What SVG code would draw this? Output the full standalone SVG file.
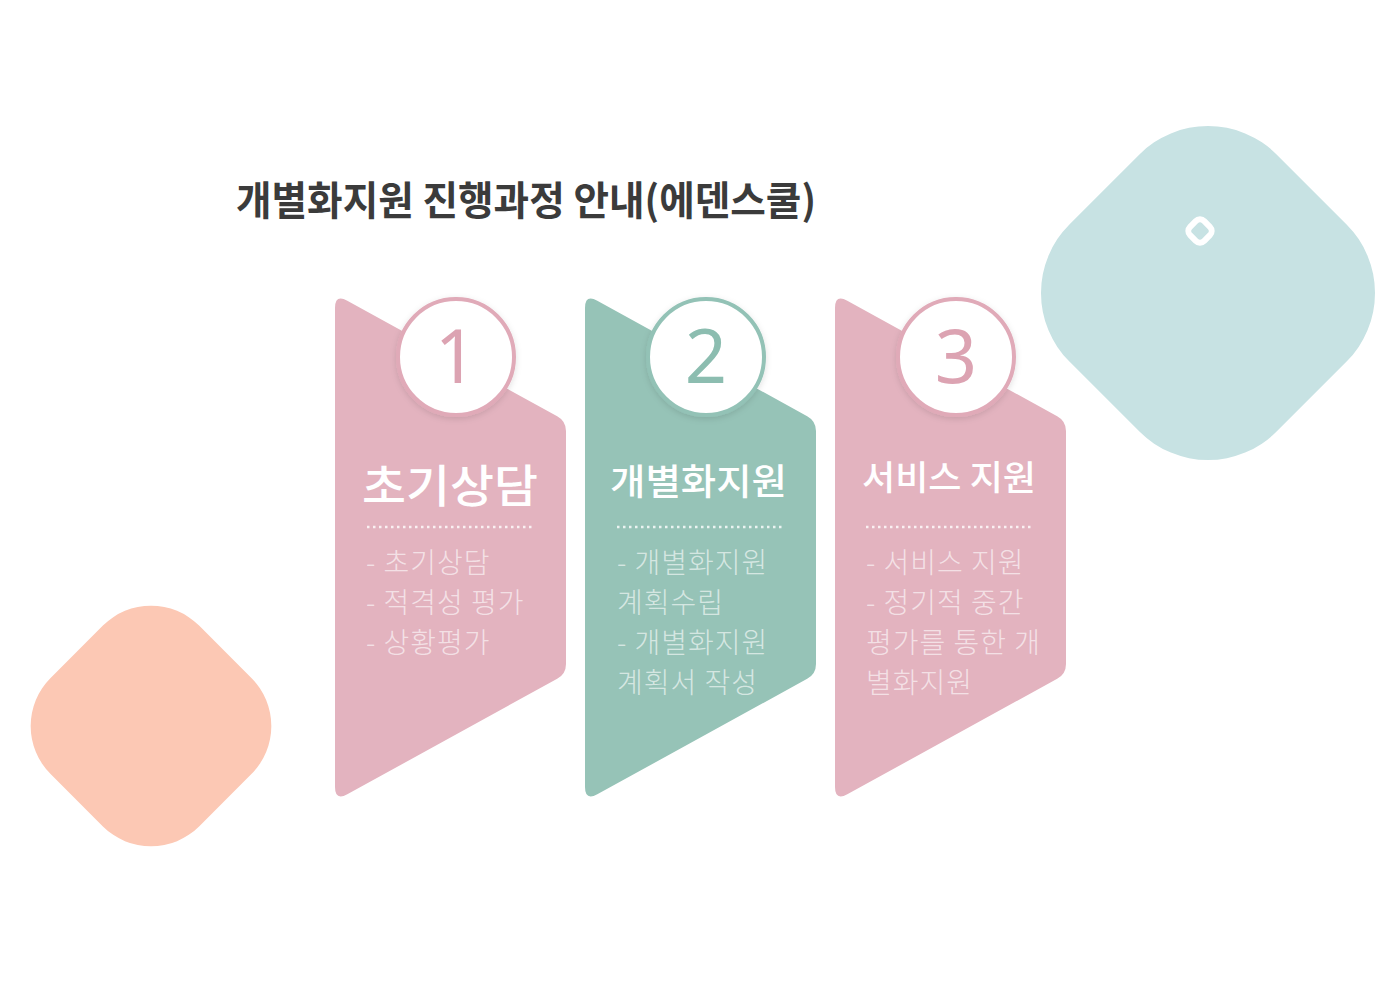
<svg xmlns="http://www.w3.org/2000/svg" width="1400" height="989" viewBox="0 0 1400 989">
  <defs>
    <style>
      .title { font-family: "Noto Sans CJK KR", "Noto Sans", sans-serif; font-weight: 700; font-size: 40px; fill: #3b3b3b; }
      .head { font-family: "Noto Sans CJK KR", sans-serif; font-weight: 500; fill: #ffffff; }
      .body { font-family: "Noto Sans CJK KR", sans-serif; font-weight: 300; font-size: 28px; letter-spacing: 1px; fill: #ffffff; fill-opacity: 0.62; }
      .num { font-family: "Noto Sans", "DejaVu Sans", sans-serif; font-weight: 400; font-size: 74px; text-anchor: middle; }
      .dots { stroke: #ffffff; stroke-opacity: 0.8; stroke-width: 2.5; stroke-dasharray: 2.5 3.5; }
      .pink { fill: #E3B3BF; }
      .teal { fill: #96C3B7; }
      .ring { fill: #ffffff; stroke-width: 4; }
    </style>
    <path id="card" d="M335,308 Q335,294 347.3,300.7 L557.2,416.2 Q566,421 566,431 L566,664 Q566,674 557.2,678.8 L347.3,794.3 Q335,801 335,787 Z"/>
    <filter id="sh" x="-20%" y="-20%" width="140%" height="140%">
      <feDropShadow dx="0" dy="2" stdDeviation="3" flood-color="#000000" flood-opacity="0.12"/>
    </filter>
  </defs>
  <rect width="1400" height="989" fill="#ffffff"/>

  <!-- decorative shapes -->
  <rect x="1061.5" y="146.5" width="293" height="293" rx="97" fill="#C7E2E3" transform="rotate(45 1208 293)"/>
  <rect x="1190" y="221" width="20" height="20" rx="6" fill="none" stroke="#ffffff" stroke-width="6" transform="rotate(45 1200 231)"/>
  <rect x="46" y="621" width="210" height="210" rx="68" fill="#FCC8B4" transform="rotate(45 151 726)"/>

  <text class="title" x="236" y="215" textLength="580" lengthAdjust="spacingAndGlyphs">개별화지원 진행과정 안내(에덴스쿨)</text>

  <g id="step1">
    <use href="#card" class="pink"/>
    <circle class="ring" cx="456" cy="357" r="58" stroke="#E0AAB8" filter="url(#sh)"/>
    <text class="num" x="456" y="383" fill="#DCA3B2">1</text>
    <text class="head" x="362" y="503" font-size="45" textLength="176" lengthAdjust="spacingAndGlyphs">초기상담</text>
    <line class="dots" x1="367" y1="527" x2="534" y2="527"/>
    <text class="body" x="366" y="573">- 초기상담</text>
    <text class="body" x="366" y="613">- 적격성 평가</text>
    <text class="body" x="366" y="653">- 상황평가</text>
  </g>

  <g id="step2">
    <use href="#card" class="teal" transform="translate(250 0)"/>
    <circle class="ring" cx="706" cy="357" r="58" stroke="#93C2B6" filter="url(#sh)"/>
    <text class="num" x="706" y="383" fill="#8CBDB0">2</text>
    <text class="head" x="610" y="495" font-size="36" textLength="177" lengthAdjust="spacingAndGlyphs">개별화지원</text>
    <line class="dots" x1="617" y1="527" x2="784" y2="527"/>
    <text class="body" x="617" y="573">- 개별화지원</text>
    <text class="body" x="617" y="613">계획수립</text>
    <text class="body" x="617" y="653">- 개별화지원</text>
    <text class="body" x="617" y="693">계획서 작성</text>
  </g>

  <g id="step3">
    <use href="#card" class="pink" transform="translate(500 0)"/>
    <circle class="ring" cx="956" cy="357" r="58" stroke="#E0AAB8" filter="url(#sh)"/>
    <text class="num" x="956" y="383" fill="#DCA3B2">3</text>
    <text class="head" x="862" y="490" font-size="34" textLength="174" lengthAdjust="spacingAndGlyphs">서비스 지원</text>
    <line class="dots" x1="866" y1="527" x2="1034" y2="527"/>
    <text class="body" x="866" y="573">- 서비스 지원</text>
    <text class="body" x="866" y="613">- 정기적 중간</text>
    <text class="body" x="866" y="653">평가를 통한 개</text>
    <text class="body" x="866" y="693">별화지원</text>
  </g>

  <g id="connectors"></g>
</svg>
